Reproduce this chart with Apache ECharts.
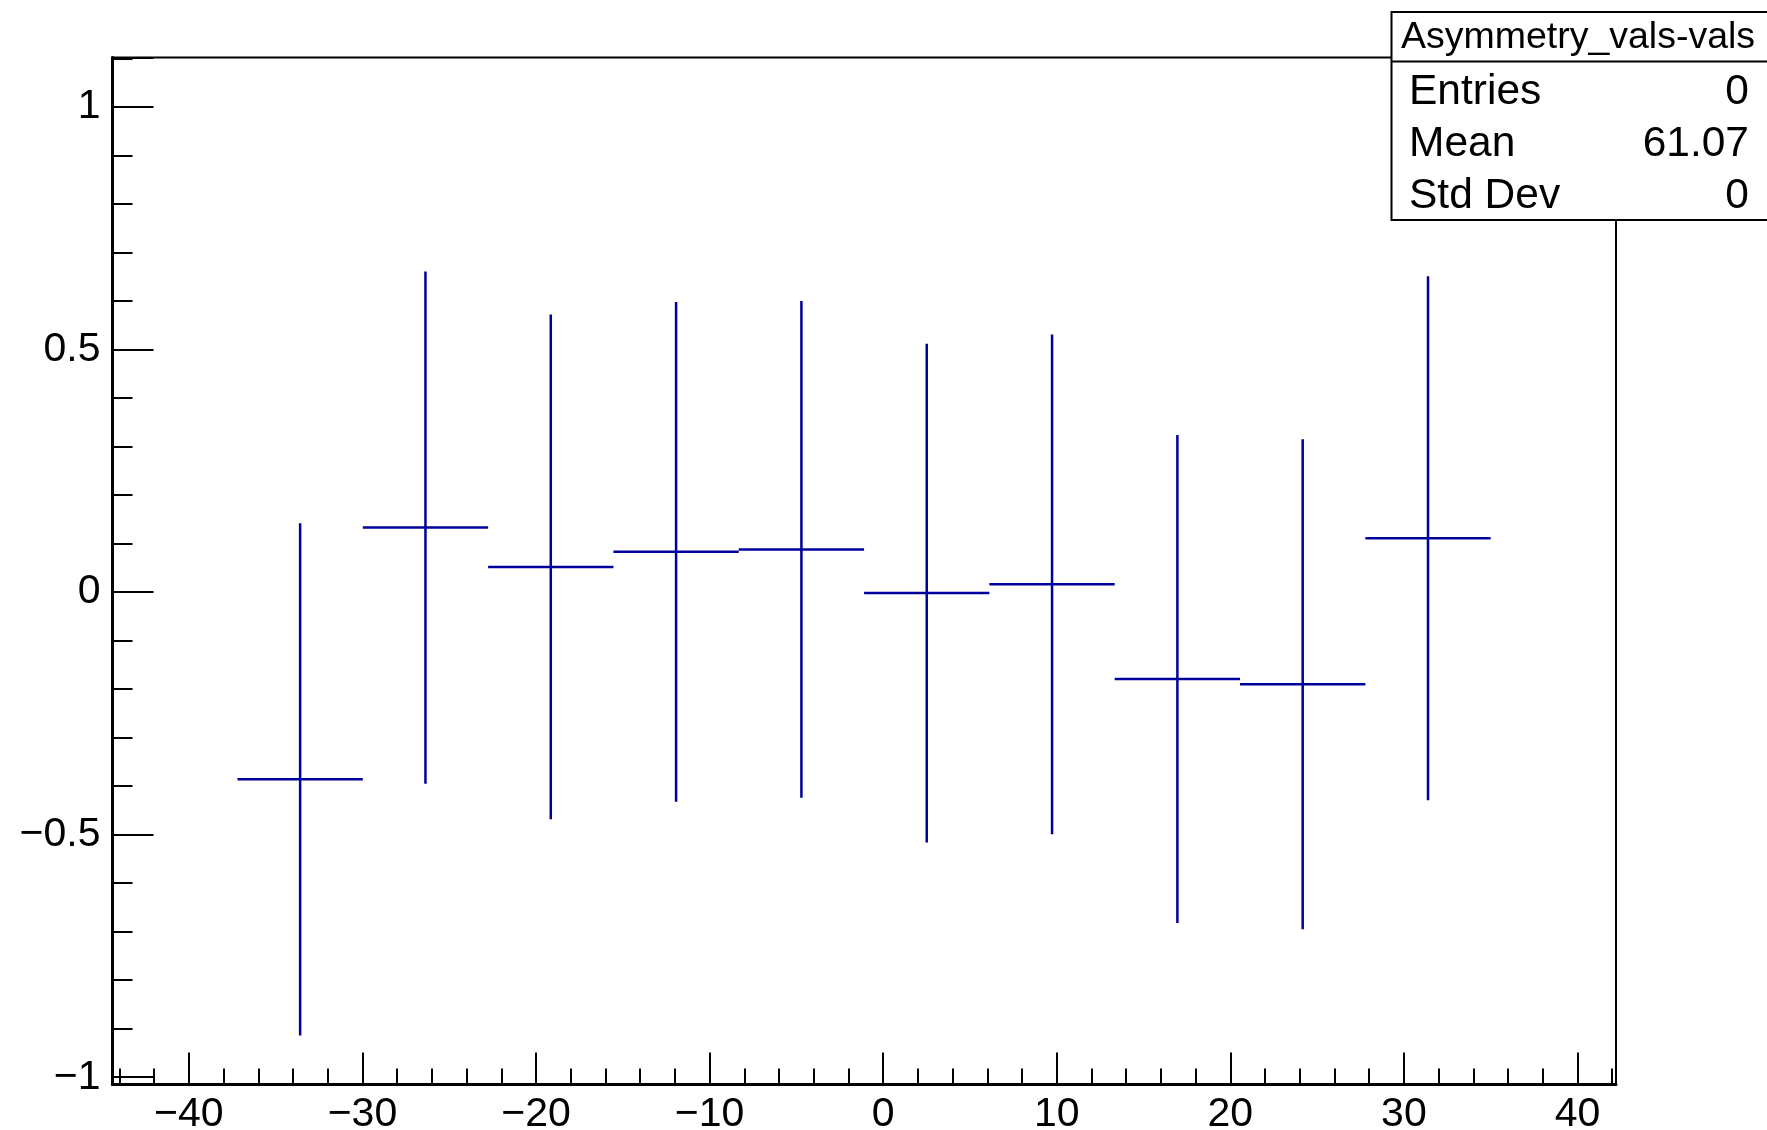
<!DOCTYPE html>
<html>
<head>
<meta charset="utf-8">
<script src="https://cdn.jsdelivr.net/npm/echarts@6/dist/echarts.min.js"></script>
<style>
html,body{margin:0;padding:0;background:#fff;}
#chart{width:1767px;height:1130px;}
</style>
</head>
<body>
<div id="chart"></div>
<script>
// Bin edges (x) of the filled bins
const binLow  = [-37.20, -29.98, -22.76, -15.54, -8.32, -1.10, 6.12, 13.34, 20.56, 27.78];
const binHigh = [-29.98, -22.76, -15.54, -8.32, -1.10, 6.12, 13.34, 20.56, 27.78, 35.00];
// Asymmetry values and their errors
const asym    = [-0.386, 0.133, 0.052, 0.083, 0.088, -0.002, 0.016, -0.179, -0.190, 0.111];
const asymErr = [0.528, 0.528, 0.520, 0.515, 0.512, 0.514, 0.515, 0.503, 0.505, 0.540];
// Axis ranges
const xRange = [-44.40, 42.22];
const yRange = [-1.015, 1.102];
// Stats box
const statsTitle = 'Asymmetry_vals-vals';
const statsNames = ['Entries', 'Mean', 'Std Dev'];
const statsValues = ['0', '61.07', '0'];

const FONT = "'Liberation Sans', Arial, Helvetica, sans-serif";
const BLUE = '#00009c';

const chart = echarts.init(document.getElementById('chart'), null, {renderer: 'canvas'});

const data = binLow.map((lo, i) => [lo, binHigh[i], asym[i], asymErr[i]]);

function fmtNum(v, step) {
  const r = Math.round(v / step) * step;
  if (Math.abs(v - r) > 1e-6) return '';
  const a = Math.abs(r);
  const s = String(parseFloat(a.toFixed(3)));
  return (r < -1e-9 ? '\u2212' : '') + s;
}

const boxX = 1391.5, boxY = 12, boxW = 380, boxH = 208, sepY = 61.5;
const rowY = [92, 144, 196];

const option = {
  backgroundColor: '#fff',
  animation: false,
  grid: {
    left: 112.5, right: 1767 - 1616, top: 57.5, bottom: 1130 - 1084.5,
    show: true, borderColor: '#000', borderWidth: 2, backgroundColor: 'transparent',
    containLabel: false, outerBoundsMode: 'none'
  },
  xAxis: {
    type: 'value',
    min: xRange[0], max: xRange[1],
    splitNumber: 8, minInterval: 10, maxInterval: 10,
    axisLine: {show: true, onZero: false, lineStyle: {color: '#000', width: 3}},
    axisTick: {show: true, inside: true, length: 32, lineStyle: {color: '#000', width: 2}},
    minorTick: {show: true, splitNumber: 5, length: 16, lineStyle: {color: '#000', width: 2}},
    splitLine: {show: false},
    axisLabel: {
      show: true, margin: 10, color: '#000', fontFamily: FONT, fontSize: 41,
      showMinLabel: false, showMaxLabel: false,
      formatter: v => fmtNum(v, 10)
    }
  },
  yAxis: {
    type: 'value',
    min: yRange[0], max: yRange[1],
    splitNumber: 4, minInterval: 0.5, maxInterval: 0.5,
    axisLine: {show: true, onZero: false, lineStyle: {color: '#000', width: 3}},
    axisTick: {show: true, inside: true, length: 41, lineStyle: {color: '#000', width: 2}},
    minorTick: {show: true, splitNumber: 5, length: 20, lineStyle: {color: '#000', width: 2}},
    splitLine: {show: false},
    axisLabel: {
      show: true, margin: 12, color: '#000', fontFamily: FONT, fontSize: 41,
      showMinLabel: false, showMaxLabel: false,
      formatter: v => fmtNum(v, 0.5)
    }
  },
  series: [{
    type: 'custom',
    name: 'asym',
    data: data,
    encode: {x: [0, 1], y: [2]},
    clip: false,
    renderItem: function (params, api) {
      const lo = api.value(0), hi = api.value(1), y = api.value(2), e = api.value(3);
      const c = (lo + hi) / 2;
      const pL = api.coord([lo, y]), pR = api.coord([hi, y]);
      const pT = api.coord([c, y + e]), pB = api.coord([c, y - e]);
      const st = {stroke: BLUE, lineWidth: 2.5};
      return {
        type: 'group',
        children: [
          {type: 'line', shape: {x1: pL[0], y1: pL[1], x2: pR[0], y2: pR[1]}, style: st},
          {type: 'line', shape: {x1: pT[0], y1: pT[1], x2: pB[0], y2: pB[1]}, style: st}
        ]
      };
    }
  }],
  graphic: [
    {type: 'rect', z: 100, shape: {x: boxX, y: boxY, width: boxW, height: boxH},
     style: {fill: '#fff', stroke: '#000', lineWidth: 2}},
    {type: 'line', z: 101, shape: {x1: boxX, y1: sepY, x2: boxX + boxW, y2: sepY},
     style: {stroke: '#000', lineWidth: 2}},
    {type: 'text', z: 101, x: 1578, y: 38,
     style: {text: statsTitle, fontFamily: FONT, fontSize: 37.5, fill: '#000', align: 'center', verticalAlign: 'middle'}},
  ].concat(statsNames.map((n, i) => ({
    type: 'text', z: 101, x: 1409, y: rowY[i],
    style: {text: n, fontFamily: FONT, fontSize: 42.5, fill: '#000', align: 'left', verticalAlign: 'middle'}
  }))).concat(statsValues.map((v, i) => ({
    type: 'text', z: 101, x: 1749, y: rowY[i],
    style: {text: v, fontFamily: FONT, fontSize: 42.5, fill: '#000', align: 'right', verticalAlign: 'middle'}
  })))
};

chart.setOption(option);
</script>
</body>
</html>
